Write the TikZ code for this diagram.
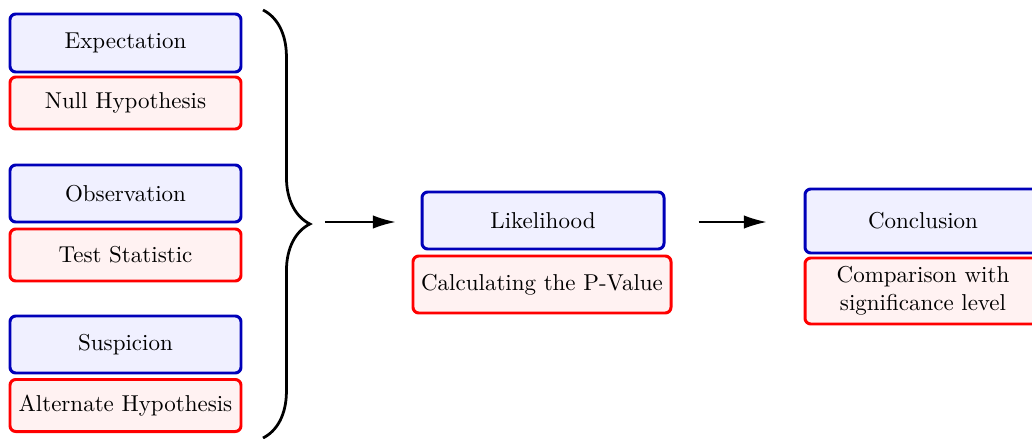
\documentclass[tikz,border=0pt]{standalone}
\usetikzlibrary{arrows.meta,decorations.pathreplacing}
\definecolor{bdraw}{RGB}{0,0,185}
\definecolor{bfill}{RGB}{240,240,255}
\definecolor{rdraw}{RGB}{255,0,0}
\definecolor{rfill}{RGB}{255,242,242}
\begin{document}
\begin{tikzpicture}[x=0.435pt,y=-0.435pt,
  bx/.style n args={2}{minimum width=#1*0.435pt, minimum height=#2*0.435pt},
  base/.style={rectangle, rounded corners=2.5pt, line width=1.3pt, inner sep=0pt, align=center},
  bluebox/.style={base, draw=bdraw, fill=bfill},
  redbox/.style={base, draw=rdraw, fill=rfill},
  arr/.style={line width=0.6pt, -{Latex[length=9.8pt,width=5.8pt]}},
  brace/.style={line width=1.2pt, decorate, decoration={brace, amplitude=20.4pt}}]
\useasboundingbox (0,0) rectangle (1032,439);
% left column
\node[bluebox, bx={231}{58}] (exp) at (125.5,43) {Expectation};
\node[redbox,  bx={231}{52}] (nul) at (125.5,103) {Null Hypothesis};
\node[bluebox, bx={231}{57}] (obs) at (125.5,193.5) {Observation};
\node[redbox,  bx={231}{52}] (tst) at (125.5,255) {Test Statistic};
\node[bluebox, bx={231}{57}] (sus) at (125.5,344.5) {Suspicion};
\node[redbox,  bx={231}{52}] (alt) at (125.5,405.5) {Alternate Hypothesis};
% brace
\coordinate (bt) at (263,10);
\coordinate (bb) at (263,438);
\coordinate (tip) at (310,222);
\draw[brace] (bt) -- (bb);
% middle
\node[bluebox, bx={242}{57}] (lik) at (543,220.5) {Likelihood};
\node[redbox,  bx={258}{57}] (pv)  at (542,284.5) {Calculating the P-Value};
% right
\node[bluebox, bx={236}{64}] (con) at (923,221) {Conclusion};
\node[redbox,  bx={236}{66}] (cmp) at (923,291) {Comparison with\\significance level};
% arrows
\draw[arr, shorten <=6.5pt, shorten >=10.9pt] (tip) -- (tip -| lik.west);
\draw[arr, shorten <=14.4pt, shorten >=16.1pt] (tip -| lik.east) -- (tip -| con.west);
\end{tikzpicture}
\end{document}
